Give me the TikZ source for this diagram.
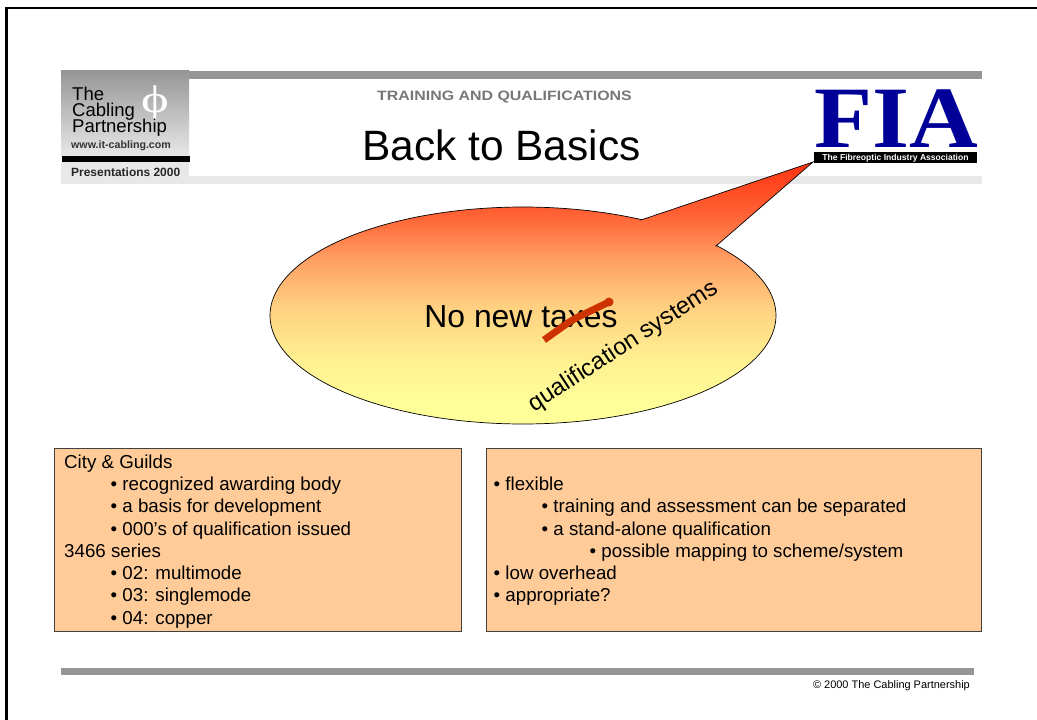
\documentclass[tikz,border=0pt]{standalone}
\usepackage{graphicx}
\usepackage{fontspec}
\setmainfont{Liberation Sans}
\newfontfamily\serifphi{Liberation Serif}
\definecolor{barg}{HTML}{969696}
\definecolor{lightg}{HTML}{E8E8E8}
\definecolor{boxfill}{HTML}{FFCC99}
\definecolor{fiablue}{HTML}{000099}
\definecolor{strike}{HTML}{CC3300}
\definecolor{graytxt}{HTML}{777777}
\definecolor{gA}{HTML}{FF3311}
\definecolor{gB}{HTML}{FF6638}
\definecolor{gC}{HTML}{FF9A60}
\definecolor{gD}{HTML}{FFCF80}
\definecolor{gE}{HTML}{FFEE90}
\definecolor{gF}{HTML}{FFFF99}
\newcommand{\fs}[1]{\fontsize{#1}{#1}\selectfont}
\newcommand{\calloutpath}{(641,220) -- (813,162) -- (716,246)
  -- plot[domain=-40.3:297.8,samples=240,smooth] ({523+253*cos(\x)},{315.5+108.5*sin(\x)}) -- cycle}
\tikzset{
  lbl/.style={inner sep=0pt,anchor=base west,text=black},
  body/.style={lbl,font=\fs{18.8}},
  logotxt/.style={lbl,font=\fs{18.6}},
  box/.style={draw=black!75,line width=0.9pt,fill=boxfill},
}
\begin{document}
\begin{tikzpicture}[x=1bp,y=-1bp]
\useasboundingbox (0,0) rectangle (1037,720);
\fill[white] (0,0) rectangle (1037,720);
% page frame
\draw[line width=2.2pt,line cap=butt] (6.5,720) -- (6.5,8) -- (1037,8);
% header
\fill[barg] (61,71) rectangle (982,79);
\fill[lightg] (61,176) rectangle (982,184);
\shade[top color=barg,bottom color=lightg,draw=none] (61,71) rectangle (189,156);
\fill[black] (62,156) rectangle (190,162);
\fill[lightg] (61,162) rectangle (189,184);
\node[lbl,font=\serifphi\fs{44},text=white,anchor=base] (phi) at (155,113) {\scalebox{1.2}[0.88]{ϕ}};
\node[logotxt] (the) at (72,100.5) {The};
\node[logotxt] (cab) at (72,117) {Cabling};
\node[logotxt] (par) at (72,133) {Partnership};
\node[lbl,font=\bfseries\fs{10.7},text=black!80] (www) at (71,149) {www.it-cabling.com};
\node[lbl,font=\bfseries\fs{12},text=black!85] (pres) at (71,177) {Presentations 2000};
\node[lbl,font=\bfseries\fs{16},text=graytxt,anchor=base] (sec) at (504.5,101) {\scalebox{1}[0.85]{TRAINING AND QUALIFICATIONS}};
\node[lbl,font=\fs{42.6},anchor=base] (title) at (501.5,161) {Back to Basics};
% FIA
\node[lbl,font=\serifphi\bfseries\fs{95.5},text=fiablue,anchor=base] (fia) at (896.5,148) {\scalebox{1}[0.92]{FIA}};
\fill[black] (814,152) rectangle (977,163);
\node[lbl,font=\bfseries\fs{8.6},text=white,anchor=base] (fibre) at (895.5,160.8) {The Fibreoptic Industry Association};
% callout
\begin{scope}
  \clip \calloutpath;
  \foreach \ya/\yb/\ca/\cb in {162/218.5/gA/gB,218/255.5/gB/gC,255/305.5/gC/gD,305/355.5/gD/gE,355/405.5/gE/gF}
    \shade[top color=\ca,bottom color=\cb,draw=none] (260,\ya) rectangle (820,\yb);
  \fill[gF] (260,405) rectangle (820,430);
\end{scope}
\draw[black,line width=0.7pt,line join=miter] \calloutpath;
\node[lbl,font=\fs{32},anchor=base] (tax) at (521,327) {No new taxes};
\draw[strike,line width=7pt,line cap=butt,rounded corners=6pt] (544,340) -- (572,320) -- (609,302);
\fill[strike] (609,302) circle (4.5);
\node[lbl,font=\fs{24},anchor=base,rotate=33] (qual) at (627,352) {qualification systems};
% boxes
\node[box,minimum width=409,minimum height=184,inner sep=0pt,anchor=north west] (leftbox) at (53.5,447.5) {};
\node[box,minimum width=497,minimum height=184,inner sep=0pt,anchor=north west] (rightbox) at (485.5,447.5) {};
\node[body] (l1) at (64,468) {City \& Guilds};
\node[body] (l2) at (110.5,490) {• recognized awarding body};
\node[body] (l3) at (110.5,512) {• a basis for development};
\node[body] (l4) at (110.5,535) {• 000’s of qualification issued};
\node[body] (l5) at (64,557) {3466 series};
\node[body] (l6) at (110.5,579) {• 02: multimode};
\node[body] (l7) at (110.5,601) {• 03: singlemode};
\node[body] (l8) at (110.5,624) {• 04: copper};
\node[body] (r1) at (493.5,490) {• flexible};
\node[body] (r2) at (541.5,512) {• training and assessment can be separated};
\node[body] (r3) at (541.5,535) {• a stand-alone qualification};
\node[body] (r4) at (589.5,557) {• possible mapping to scheme/system};
\node[body] (r5) at (493.5,579) {• low overhead};
\node[body] (r6) at (493.5,601) {• appropriate?};
% footer
\fill[barg] (61,668) rectangle (974,675);
\node[lbl,font=\fs{11},anchor=base east] (copy) at (970,688) {© 2000 The Cabling Partnership};
\end{tikzpicture}
\end{document}
